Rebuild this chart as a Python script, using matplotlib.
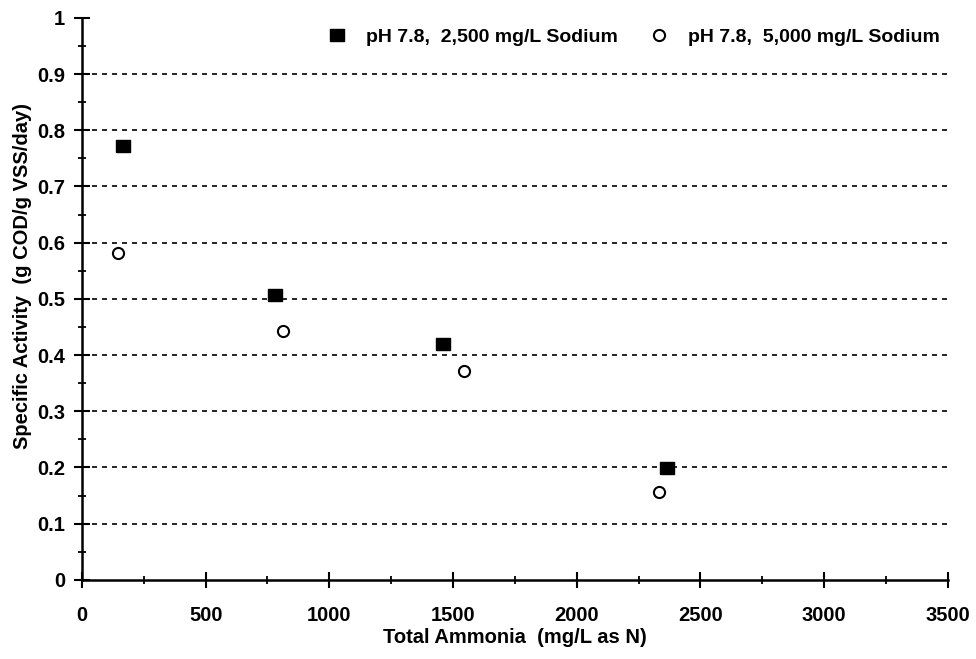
import matplotlib
matplotlib.use('Agg')
import matplotlib.pyplot as plt
from matplotlib.ticker import MultipleLocator

plt.rcParams['font.family'] = ['Liberation Sans', 'DejaVu Sans']
plt.rcParams['font.weight'] = 'bold'
plt.rcParams['axes.labelweight'] = 'bold'

# Specific activity vs total ammonia at two sodium levels
ammonia_2500 = [166, 780, 1459, 2365]
activity_2500 = [0.772, 0.507, 0.420, 0.199]
ammonia_5000 = [146, 812, 1544, 2332]
activity_5000 = [0.582, 0.443, 0.372, 0.157]

label_2500 = "pH 7.8,  2,500 mg/L Sodium"
label_5000 = "pH 7.8,  5,000 mg/L Sodium"

# slightly flattened marker shapes
square = [(-1.25, -1), (1.25, -1), (1.25, 1), (-1.25, 1), (-1.25, -1)]

fig = plt.figure(figsize=(9.76, 6.59), dpi=100)
ax = fig.add_axes([0.084, 0.12, 0.887, 0.853])

# dashed horizontal grid
for g in [0.1, 0.2, 0.3, 0.4, 0.5, 0.6, 0.7, 0.8, 0.9]:
    ax.axhline(g, color='black', lw=1.2, ls=(0, (3, 3)), zorder=1)

ax.plot(ammonia_2500, activity_2500, ls='none', marker=square, ms=10,
        mfc='black', mec='black', label=label_2500, zorder=3)
ax.plot(ammonia_5000, activity_5000, ls='none', marker='o', ms=8,
        mfc='white', mec='black', mew=1.5, label=label_5000, zorder=3)

ax.set_xlim(0, 3500)
ax.set_ylim(0, 1)
ax.xaxis.set_major_locator(MultipleLocator(500))
ax.xaxis.set_minor_locator(MultipleLocator(250))
ax.yaxis.set_major_locator(MultipleLocator(0.1))
ax.yaxis.set_minor_locator(MultipleLocator(0.05))
ax.yaxis.set_major_formatter(lambda v, p: '0' if v == 0 else ('1' if v == 1 else f'{v:.1f}'))

for s in ['top', 'right']:
    ax.spines[s].set_visible(False)
for s in ['left', 'bottom']:
    ax.spines[s].set_linewidth(1.8)

ax.tick_params(which='major', direction='inout', length=12, width=1.5,
               labelsize=14.5)
ax.tick_params(which='minor', direction='inout', length=6, width=1.3)
ax.tick_params(axis='x', which='major', pad=13)
ax.tick_params(axis='y', which='major', pad=6)

ax.set_xlabel("Total Ammonia  (mg/L as N)", fontsize=14.5, labelpad=2)
ax.set_ylabel("Specific Activity  (g COD/g VSS/day)", fontsize=14.5)
ax.yaxis.set_label_coords(-0.058, 0.54)

ax.legend(loc='upper right', ncol=2, frameon=False, fontsize=14,
          handlelength=1.2, handletextpad=0.9, columnspacing=1.5,
          borderaxespad=0.0, bbox_to_anchor=(1.0, 0.995))

fig.savefig("out.png", dpi=100)
plt.close()
